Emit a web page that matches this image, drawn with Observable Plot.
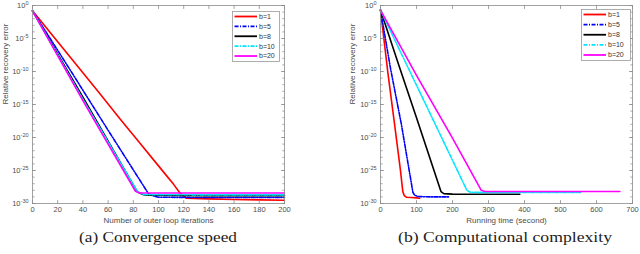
<!DOCTYPE html>
<html>
<head>
<meta charset="utf-8">
<script src="https://cdn.jsdelivr.net/npm/d3@7"></script>
<script src="https://cdn.jsdelivr.net/npm/@observablehq/plot@0.6"></script>
<style>
  html, body { margin: 0; padding: 0; background: #fff; }
  #wrap { position: relative; width: 640px; height: 254px; overflow: hidden; font-family: "Liberation Sans", Arial, sans-serif; }
  .panel { position: absolute; top: 0; }
  .legend { position: absolute; }
</style>
</head>
<body>
<div id="wrap"></div>
<script>
// ---- data (y values stored as log10 of the relative recovery error) ----
const seriesNames = ["b=1", "b=5", "b=8", "b=10", "b=20"];
const seriesColors = ["#ff0000", "#0000ff", "#000000", "#00e5ff", "#ff00ff"];
const seriesDash = [null, "4,1.5,1,1.5", null, "4,1.5,1,1.5", null];

// (a) error vs outer loop iterations
const iterB1x  = [0, 20, 40, 54, 70, 85, 100, 106, 112, 117, 122, 140, 160, 180, 200];
const iterB1y  = [-0.8, -5.5, -10.2, -13.5, -17.3, -20.8, -24.3, -25.7, -27.1, -28.4, -29.2, -29.3, -29.4, -29.45, -29.5];
const iterB5x  = [0, 30, 60, 92, 97, 100, 140, 200];
const iterB5y  = [-0.8, -9.8, -18.9, -28.5, -28.9, -29.05, -29.1, -29.1];
const iterB8x  = [0, 40, 83, 87, 90, 140, 200];
const iterB8y  = [-0.8, -13.9, -28.2, -28.6, -28.75, -28.8, -28.8];
const iterB10x = [0, 40, 83, 86, 89, 140, 200];
const iterB10y = [-0.8, -14.2, -28.1, -28.5, -28.65, -28.7, -28.7];
const iterB20x = [0, 40, 81.5, 84, 87, 140, 200];
const iterB20y = [-0.8, -14.4, -28.1, -28.35, -28.4, -28.4, -28.4];

// (b) error vs running time (seconds)
const timeB1x  = [0, 21, 40, 55, 62, 66, 72, 85, 100, 109];
const timeB1y  = [-0.7, -10.4, -18.4, -24.8, -28.2, -28.8, -29.05, -29.1, -29.15, -29.2];
const timeB5x  = [0, 28, 58, 90, 95, 105, 140, 192];
const timeB5y  = [-0.7, -9.6, -18.0, -28.3, -28.75, -28.95, -29.0, -29.0];
const timeB8x  = [0, 50, 100, 168, 176, 200, 300, 387];
const timeB8y  = [-0.7, -8.9, -17.0, -28.2, -28.5, -28.58, -28.6, -28.6];
const timeB10x = [0, 80, 160, 240, 250, 300, 450, 556];
const timeB10y = [-0.7, -9.8, -18.9, -28.0, -28.3, -28.33, -28.33, -28.33];
const timeB20x = [0, 100, 200, 280, 290, 400, 550, 665];
const timeB20y = [-0.7, -10.6, -20.1, -28.0, -28.18, -28.18, -28.18, -28.18];

// ticks
const yMajorTicks = [0, -5, -10, -15, -20, -25, -30];
const yMinorTicks = d3.range(0, -31, -1);
const xTicksA = [0, 20, 40, 60, 80, 100, 120, 140, 160, 180, 200];
const xTicksB = [0, 100, 200, 300, 400, 500, 600, 700];

const captionA = "(a) Convergence speed";
const captionB = "(b) Computational complexity";
const xLabelA = "Number of outer loop iterations";
const xLabelB = "Running time (second)";
const yLabel = "Relative recovery error";

// ---- helpers ----
function toRows(names, xs, ys) {
  const rows = [];
  names.forEach((n, i) => xs[i].forEach((x, j) => rows.push({series: n, x, y: Math.pow(10, ys[i][j]), order: i})));
  return rows;
}
const tickShape = {draw(ctx, l) { ctx.moveTo(0, 0); ctx.lineTo(0, -l); }};
const axisGray = "#8c8c8c";
const textGray = "#4d4d4d";

function makePanel(rows, xDomain, xTicks, xLabel, opts) {
  const yTicksV = yMajorTicks.map(e => Math.pow(10, e));
  const yMinorV = yMinorTicks.map(e => Math.pow(10, e));
  const yMin = 1e-30, yMax = 1;
  const tickMarks = [
    Plot.vector(xTicks, {x: d => d, y: yMin, length: 3, rotate: 0, anchor: "start", shape: tickShape, stroke: axisGray, strokeWidth: 0.8}),
    Plot.vector(xTicks, {x: d => d, y: yMax, length: 3, rotate: 180, anchor: "start", shape: tickShape, stroke: axisGray, strokeWidth: 0.8}),
    Plot.vector(yMinorV, {x: xDomain[0], y: d => d, length: 1.8, rotate: 90, anchor: "start", shape: tickShape, stroke: axisGray, strokeWidth: 0.7}),
    Plot.vector(yMinorV, {x: xDomain[1], y: d => d, length: 1.8, rotate: -90, anchor: "start", shape: tickShape, stroke: axisGray, strokeWidth: 0.7}),
    Plot.vector(yTicksV, {x: xDomain[0], y: d => d, length: 3, rotate: 90, anchor: "start", shape: tickShape, stroke: axisGray, strokeWidth: 0.8}),
    Plot.vector(yTicksV, {x: xDomain[1], y: d => d, length: 3, rotate: -90, anchor: "start", shape: tickShape, stroke: axisGray, strokeWidth: 0.8})
  ];
  const lines = seriesNames.map((n, i) => Plot.line(rows.filter(r => r.series === n), {
    x: "x", y: "y", stroke: seriesColors[i], strokeWidth: 1.6,
    strokeDasharray: seriesDash[i] || undefined, strokeLinejoin: "round"
  }));
  const plot = Plot.plot({
    width: 320, height: 228,
    marginLeft: opts.marginLeft, marginRight: opts.marginRight, marginTop: 5, marginBottom: 25,
    style: {fontFamily: "'Liberation Sans', Arial, sans-serif", fontSize: "7.5px", color: textGray, background: "white"},
    x: {domain: xDomain, ticks: xTicks},
    y: {type: "log", domain: [yMin, yMax], ticks: yTicksV},
    marks: [
      ...lines,
      Plot.frame({stroke: axisGray, strokeWidth: 0.8}),
      ...tickMarks,
      Plot.axisX(xTicks, {tickSize: 0, tickPadding: 3, label: null, tickFormat: d => String(d), fill: textGray}),
      Plot.axisY(yTicksV, {tickSize: 0, tickPadding: 4, label: null,
        tickFormat: d => "10^" + Math.round(Math.log10(d)), fill: textGray}),
      Plot.text([xLabel], {frameAnchor: "bottom", dy: 19, text: d => d, fill: textGray, fontSize: 8}),
      Plot.text([yLabel], {frameAnchor: "left", dx: opts.yLabelDx, rotate: -90, text: d => d, fill: textGray, fontSize: 8})
    ]
  });
  // superscript exponents on the y tick labels
  plot.querySelectorAll('g[aria-label="y-axis tick label"] text').forEach(t => {
    const s = t.textContent;
    if (s.indexOf("^") < 0) return;
    const [base, ex] = s.split("^");
    t.textContent = base;
    const sp = document.createElementNS("http://www.w3.org/2000/svg", "tspan");
    sp.setAttribute("dy", "-3");
    sp.setAttribute("font-size", "5.5px");
    sp.textContent = ex;
    t.appendChild(sp);
  });
  return plot;
}

function makeLegend(left, top, w, h) {
  const svg = d3.create("svg").attr("class", "legend").attr("width", w).attr("height", h)
    .style("left", left + "px").style("top", top + "px");
  svg.append("rect").attr("x", 0.5).attr("y", 0.5).attr("width", w - 1).attr("height", h - 1)
    .attr("fill", "white").attr("stroke", "#9a9a9a").attr("stroke-width", 0.8);
  const step = (h - 10) / 4.15;
  seriesNames.forEach((n, i) => {
    const yy = 5.5 + i * step;
    svg.append("line").attr("x1", 2.5).attr("x2", 25).attr("y1", yy).attr("y2", yy)
      .attr("stroke", seriesColors[i]).attr("stroke-width", 1.8)
      .attr("stroke-dasharray", seriesDash[i]);
    svg.append("text").attr("x", 27).attr("y", yy).attr("dy", "0.35em")
      .attr("font-size", "7px").attr("fill", "#333").attr("font-family", "'Liberation Sans', Arial, sans-serif").text(n);
  });
  return svg.node();
}

const wrap = document.getElementById("wrap");

const rowsA = toRows(seriesNames, [iterB1x, iterB5x, iterB8x, iterB10x, iterB20x], [iterB1y, iterB5y, iterB8y, iterB10y, iterB20y]);
const rowsB = toRows(seriesNames, [timeB1x, timeB5x, timeB8x, timeB10x, timeB20x], [timeB1y, timeB5y, timeB8y, timeB10y, timeB20y]);

const pA = makePanel(rowsA, [0, 200], xTicksA, xLabelA, {marginLeft: 32, marginRight: 36, yLabelDx: -27});
pA.classList.add("panel"); pA.style.left = "0px";
wrap.appendChild(pA);

const pB = makePanel(rowsB, [0, 700], xTicksB, xLabelB, {marginLeft: 60, marginRight: 8, yLabelDx: -28});
pB.classList.add("panel"); pB.style.left = "320px";
wrap.appendChild(pB);

wrap.appendChild(makeLegend(232, 11, 48, 51));
wrap.appendChild(makeLegend(581, 9, 50, 52));

// captions
const cap = d3.create("svg").attr("width", 640).attr("height", 26)
  .style("position", "absolute").style("left", "0px").style("top", "228px");
[[captionA, 158, 158], [captionB, 505, 214]].forEach(([t, cx, w]) => {
  cap.append("text").attr("x", cx).attr("y", 14).attr("text-anchor", "middle")
    .attr("font-family", "'Liberation Serif', 'DejaVu Serif', serif").attr("font-size", "14px")
    .attr("fill", "#222").attr("textLength", w).attr("lengthAdjust", "spacingAndGlyphs").text(t);
});
wrap.appendChild(cap.node());
</script>
</body>
</html>
